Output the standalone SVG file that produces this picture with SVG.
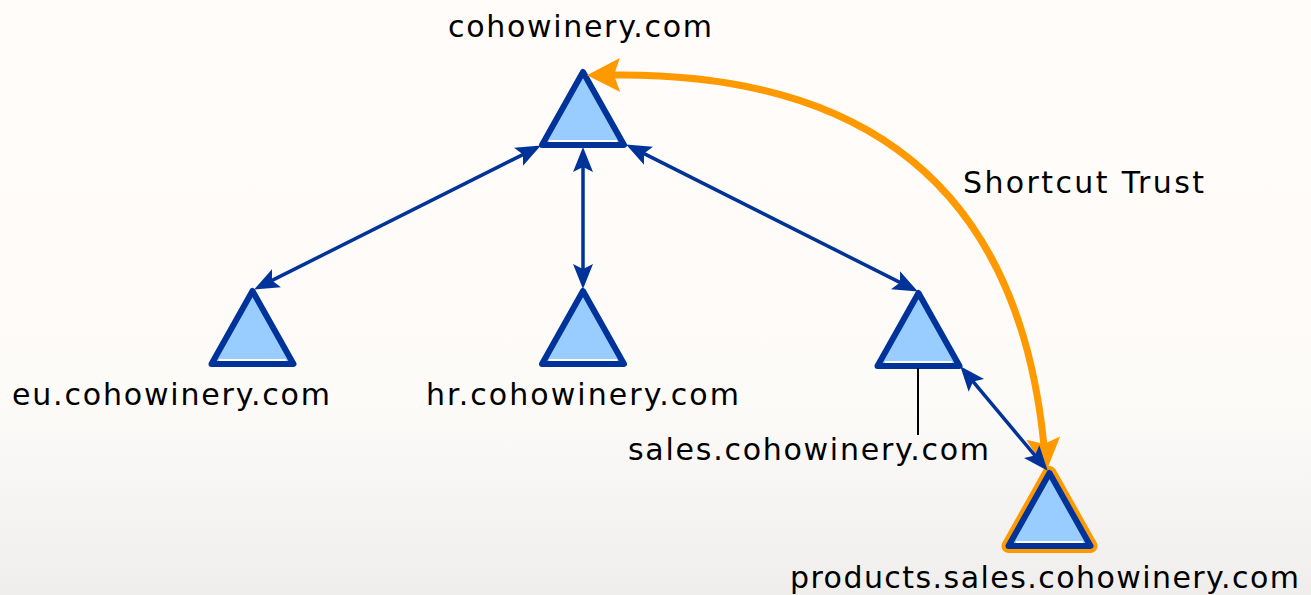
<svg xmlns="http://www.w3.org/2000/svg" width="1311" height="595" viewBox="0 0 1311 595">
  <defs>
    <linearGradient id="bg" x1="0" y1="0" x2="0" y2="1">
      <stop offset="0" stop-color="#fffcf9"/>
      <stop offset="0.68" stop-color="#fdfbf8"/>
      <stop offset="1" stop-color="#efeeed"/>
    </linearGradient>
    <path id="tri" d="M0,0 L41,73 L-41,73 Z"/>
    <marker id="blueArrow" markerUnits="userSpaceOnUse" markerWidth="32" markerHeight="26" viewBox="-2 -13 32 26" refX="6" refY="0" orient="auto-start-reverse">
      <path d="M0,-10 L25,0 L0,10 L5,0 Z" fill="#003399"/>
    </marker>
    <marker id="orangeArrow" markerUnits="userSpaceOnUse" markerWidth="40" markerHeight="40" viewBox="-2 -20 40 40" refX="8" refY="0" orient="auto-start-reverse">
      <path d="M0,-17 L33,0 L0,17 L6,0 Z" fill="#ff9900"/>
    </marker>
    <style>
      .node use.body { fill: #99ccff; stroke: #003399; stroke-width: 6; stroke-linejoin: round; }
      .node use.halo { fill: none; stroke: #ff9900; stroke-width: 14; stroke-linejoin: round; }
      .node line.hl { stroke: #ffffff; stroke-width: 2; }
      .lbl { font-family: "DejaVu Sans", "Liberation Sans", sans-serif; font-size: 30px; fill: #000000; }
      .edge { fill: none; stroke: #003399; stroke-width: 3.5; marker-start: url(#blueArrow); marker-end: url(#blueArrow); }
      .trust { fill: none; stroke: #ff9900; stroke-width: 7; marker-start: url(#orangeArrow); marker-end: url(#orangeArrow); }
    </style>
  </defs>

  <rect x="0" y="0" width="1311" height="595" fill="url(#bg)"/>

  <g id="node-root" class="node">
    <use class="body" href="#tri" transform="translate(583,72)"/>
    <line class="hl" x1="549" y1="141" x2="617" y2="141"/>
    <text class="lbl" x="448" y="37" textLength="264">cohowinery.com</text>
  </g>

  <g id="node-eu" class="node">
    <use class="body" href="#tri" transform="translate(252.5,291)"/>
    <line class="hl" x1="219" y1="360" x2="286" y2="360"/>
    <text class="lbl" x="12" y="405" textLength="318">eu.cohowinery.com</text>
  </g>

  <g id="node-hr" class="node">
    <use class="body" href="#tri" transform="translate(583,291)"/>
    <line class="hl" x1="549" y1="360" x2="617" y2="360"/>
    <text class="lbl" x="426" y="405" textLength="313">hr.cohowinery.com</text>
  </g>

  <g id="node-sales" class="node">
    <use class="body" href="#tri" transform="translate(918.5,293)"/>
    <line class="hl" x1="885" y1="362" x2="952" y2="362"/>
    <line x1="918" y1="368" x2="918" y2="435" stroke="#000000" stroke-width="2"/>
    <text class="lbl" x="628" y="460" textLength="361">sales.cohowinery.com</text>
  </g>

  <g id="node-products" class="node">
    <use class="halo" href="#tri" transform="translate(1049.5,473)"/>
    <use class="body" href="#tri" transform="translate(1049.5,473)"/>
    <line class="hl" x1="1016" y1="542" x2="1083" y2="542"/>
    <text class="lbl" x="790" y="588" textLength="509">products.sales.cohowinery.com</text>
  </g>

  <g id="connectors">
    <path id="edge-shortcut" class="trust" d="M612,75 C880,72 1020,200 1044,446"/>
    <text class="lbl" x="963" y="193" textLength="241">Shortcut Trust</text>
    <line id="edge-root-eu" class="edge" x1="523.9" y1="154.1" x2="271.1" y2="280.9"/>
    <line id="edge-root-hr" class="edge" x1="583" y1="166" x2="583" y2="270"/>
    <line id="edge-root-sales" class="edge" x1="643.1" y1="153.1" x2="900.9" y2="282.9"/>
    <line id="edge-sales-products" class="edge" x1="972.5" y1="380.8" x2="1035.5" y2="456.2"/>
  </g>
</svg>
